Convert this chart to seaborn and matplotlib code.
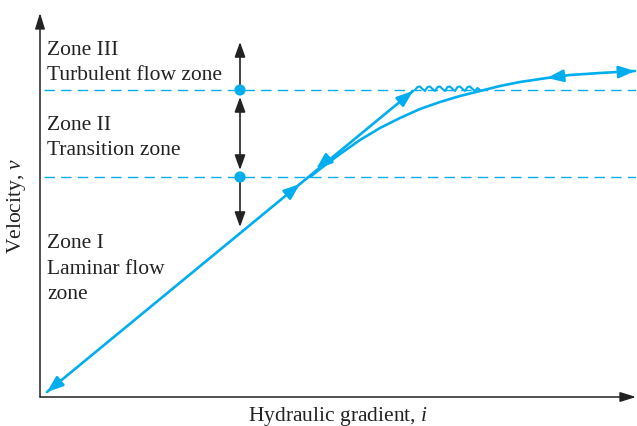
import numpy as np
import pandas as pd
import seaborn as sns
from matplotlib import pyplot as plt

# values (arbitrary units: hydraulic gradient i, velocity v)
zone_bounds_v = [220, 307]

laminar_i = [7, 373]
laminar_v = [5, 306]

turb_i = [270, 280, 300, 320, 340, 360, 380, 400, 420, 440, 460, 480, 507, 530, 560, 595]
turb_v = [220, 228, 243, 257, 269, 279, 288, 295, 301, 306, 311, 315, 319, 322, 324, 326]

wiggle_i = [375, 377.5, 380, 382.5, 385, 387.5, 390, 392.5, 395, 397.5, 400, 402.5,
            405, 407.5, 410, 412.5, 415, 417.5, 420, 422.5, 425, 427.5, 430, 432.5,
            435, 437.5, 440]
wiggle_v = [307, 310, 310.5, 308, 306, 310, 310.5, 308, 306, 310, 310.5, 308,
            306, 310, 310.5, 308, 306, 310, 310.5, 308, 306, 310, 310.5, 308,
            306, 309, 307]

# zone marker column
marker_i = 200
marker_v = zone_bounds_v
marker_top_v = 355
marker_bottom_v = 170

zone_labels = ["Zone III\nTurbulent flow zone", "Zone II\nTransition zone",
               "Zone I\nLaminar flow\nzone"]
zone_label_v = [335, 260, 129]

BLUE = "#00AEEF"
DARK = "#222222"

sns.set_theme(style="white")
plt.rcParams["font.family"] = ["Liberation Serif", "DejaVu Serif"]
plt.rcParams["mathtext.fontset"] = "custom"
plt.rcParams["mathtext.rm"] = "Liberation Serif"
plt.rcParams["mathtext.it"] = "Liberation Serif:italic"

fig = plt.figure(figsize=(6.37, 4.27), dpi=100)
ax = fig.add_axes([40 / 637, 29 / 427, 596 / 637, 384 / 427])
ax.set_xlim(0, 596)
ax.set_ylim(0, 384)
ax.axis("off")

# zone boundaries
for v in zone_bounds_v:
    ax.plot([4, 596], [v, v], color=BLUE, lw=1.0, ls=(0, (7.5, 4.5)), zorder=1)

lam = pd.DataFrame({"i": laminar_i, "v": laminar_v})
turb = pd.DataFrame({"i": turb_i, "v": turb_v})
wig = pd.DataFrame({"i": wiggle_i, "v": wiggle_v})
sns.lineplot(data=lam, x="i", y="v", color=BLUE, lw=1.9, ax=ax, sort=False, estimator=None)
sns.lineplot(data=turb, x="i", y="v", color=BLUE, lw=1.9, ax=ax, sort=False, estimator=None)
sns.lineplot(data=wig, x="i", y="v", color=BLUE, lw=1.5, ax=ax, sort=False, estimator=None)


def arrow(tip, tail, color, style="-|>,head_length=0.8,head_width=0.3", lw=1.9):
    ax.annotate("", xy=tip, xytext=tail, annotation_clip=False,
                arrowprops=dict(arrowstyle=style, color=color, lw=lw,
                                shrinkA=0, shrinkB=0))


def along(p_from, p_to, tip, length=14):
    d = np.array(p_to, float) - np.array(p_from, float)
    d /= np.hypot(*d)
    return tuple(np.array(tip, float) - d * length)


# blue arrowheads
p0 = (laminar_i[0], laminar_v[0])
p1 = (laminar_i[1], laminar_v[1])
arrow(p1, along(p0, p1, p1), BLUE)
arrow(p0, along(p1, p0, p0), BLUE)
mid_tip = (260, laminar_v[0] + (260 - laminar_i[0]) * (laminar_v[1] - laminar_v[0]) / (laminar_i[1] - laminar_i[0]))
arrow(mid_tip, along(p0, p1, mid_tip), BLUE)
down_tip = (276, 228)
arrow(down_tip, along(p1, p0, down_tip), BLUE)
end = (turb_i[-1], turb_v[-1])
arrow(end, along((turb_i[-3], turb_v[-3]), end, end), BLUE)
back = (turb_i[12], turb_v[12])
arrow(back, along((turb_i[13], turb_v[13]), back, back), BLUE)

# black double arrows and dots
black = "-|>,head_length=0.75,head_width=0.27"
arrow((marker_i, marker_top_v), (marker_i, marker_v[1]), DARK, black, 1.2)
ax.annotate("", xy=(marker_i, marker_v[1] - 7), xytext=(marker_i, marker_v[0] + 7),
            arrowprops=dict(arrowstyle="<|-|>,head_length=0.75,head_width=0.27",
                            color=DARK, lw=1.2, shrinkA=0, shrinkB=0))
arrow((marker_i, marker_bottom_v), (marker_i, marker_v[0]), DARK, black, 1.2)
sns.scatterplot(x=[marker_i] * 2, y=marker_v, color=BLUE, s=65, edgecolor="none",
                ax=ax, zorder=5)

# axes with arrows
for tip in [(596, 0), (0, 384)]:
    ax.annotate("", xy=tip, xytext=(0, 0), annotation_clip=False,
                arrowprops=dict(arrowstyle="-|>,head_length=0.8,head_width=0.25",
                                color=DARK, lw=1.1, shrinkA=0, shrinkB=0))

for lab, v in zip(zone_labels, zone_label_v):
    ax.text(7, v, lab, fontsize=15.5, va="center", ha="left", linespacing=1.45, color=DARK)

ax.text(298, -23, "Hydraulic gradient, $i$", fontsize=15.5, ha="center", va="baseline",
        color=DARK, clip_on=False)
ax.text(-23, 192, "Velocity, $v$", fontsize=15.5, ha="center", va="center",
        rotation=90, color=DARK, clip_on=False)

fig.savefig("out.png", dpi=100)
